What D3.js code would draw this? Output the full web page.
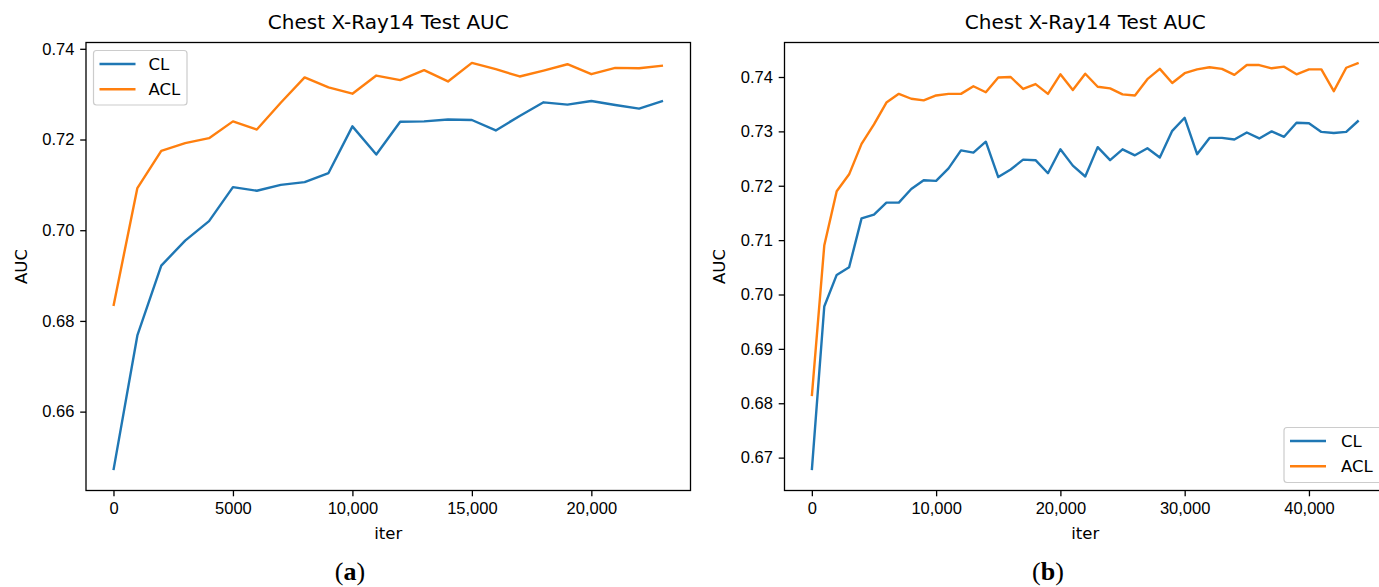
<!DOCTYPE html>
<html>
<head>
<meta charset="utf-8">
<script src="https://cdn.jsdelivr.net/npm/d3@7"></script>
<style>
    body { margin: 0; background: #fff; }
    svg { display: block; font-family: "DejaVu Sans", sans-serif; }
    .tick text { font-size: 16.5px; fill: #000; }
    .tick line, .domain { stroke: #000; stroke-width: 1.3; }
</style>
</head>
<body>
<svg id="chart" width="1379" height="587"></svg>
<script>
// panel (a): 24 evals
var itersA = [0, 1000, 2000, 3000, 4000, 5000, 6000, 7000, 8000, 9000, 10000, 11000,
    12000, 13000, 14000, 15000, 16000, 17000, 18000, 19000, 20000, 21000, 22000, 23000];
var clA = [0.6471, 0.6768, 0.6922, 0.6977, 0.7020, 0.7095, 0.7087, 0.7100, 0.7106, 0.7126, 0.7229, 0.7167,
    0.7239, 0.7240, 0.7244, 0.7243, 0.7220, 0.7252, 0.7282, 0.7277, 0.7285, 0.7276, 0.7268, 0.7285];
var aclA = [0.6833, 0.7093, 0.7175, 0.7192, 0.7203, 0.7240, 0.7222, 0.7281, 0.7337, 0.7315, 0.7301, 0.7341,
    0.7331, 0.7353, 0.7328, 0.7369, 0.7355, 0.7339, 0.7352, 0.7366, 0.7344, 0.7358, 0.7357, 0.7363];
var yTicksA = [0.66, 0.68, 0.70, 0.72, 0.74];
var xTicksA = [0, 5000, 10000, 15000, 20000];

// panel (b): 45 evals
var itersB = [0, 1000, 2000, 3000, 4000, 5000, 6000, 7000, 8000, 9000, 10000, 11000, 12000, 13000, 14000,
    15000, 16000, 17000, 18000, 19000, 20000, 21000, 22000, 23000, 24000, 25000, 26000, 27000, 28000, 29000,
    30000, 31000, 32000, 33000, 34000, 35000, 36000, 37000, 38000, 39000, 40000, 41000, 42000, 43000, 44000];
var clB = [0.6677, 0.6978, 0.7036, 0.7050, 0.7140, 0.7147, 0.7169, 0.7169, 0.7194, 0.7210, 0.7209, 0.7232, 0.7265, 0.7261, 0.7281,
    0.7216, 0.7230, 0.7248, 0.7247, 0.7223, 0.7267, 0.7237, 0.7217, 0.7271, 0.7247, 0.7267, 0.7256, 0.7269, 0.7252, 0.7301,
    0.7325, 0.7258, 0.7288, 0.7288, 0.7285, 0.7298, 0.7287, 0.7300, 0.7290, 0.7316, 0.7315, 0.7299, 0.7297, 0.7299, 0.7320];
var aclB = [0.6813, 0.7090, 0.7190, 0.7221, 0.7277, 0.7313, 0.7353, 0.7369, 0.7360, 0.7357, 0.7366, 0.7369, 0.7369, 0.7383, 0.7372,
    0.7399, 0.7400, 0.7378, 0.7387, 0.7369, 0.7405, 0.7376, 0.7406, 0.7382, 0.7379, 0.7368, 0.7366, 0.7396, 0.7415, 0.7389,
    0.7407, 0.7414, 0.7418, 0.7415, 0.7404, 0.7422, 0.7422, 0.7416, 0.7419, 0.7405, 0.7414, 0.7414, 0.7374, 0.7417, 0.7426];
var yTicksB = [0.67, 0.68, 0.69, 0.70, 0.71, 0.72, 0.73, 0.74];
var xTicksB = [0, 10000, 20000, 30000, 40000];

var seriesNames = ["CL", "ACL"];
var colors = ["#1f77b4", "#ff7f0e"];

var svg = d3.select("#chart");

// matplotlib style 5% margin around the data
function padded(values) {
    var ext = d3.extent(values);
    var m = (ext[1] - ext[0]) * 0.05;
    return [ext[0] - m, ext[1] + m];
}

function fmtX(d) {
    return d >= 10000 ? d3.format(",")(d) : String(d);
}

function draw_panel(opts) {
    var g = svg.append("g");
    var x = d3.scaleLinear().domain(padded(opts.iters)).range([opts.left, opts.right]);
    var y = d3.scaleLinear().domain(padded(opts.cl.concat(opts.acl))).range([opts.bottom, opts.top]);

    // frame
    g.append("rect")
        .attr("x", opts.left).attr("y", opts.top)
        .attr("width", opts.right - opts.left).attr("height", opts.bottom - opts.top)
        .attr("fill", "none").attr("stroke", "#000").attr("stroke-width", 1.3);

    g.append("g")
        .attr("transform", "translate(0," + opts.bottom + ")")
        .call(d3.axisBottom(x).tickValues(opts.xTicks).tickFormat(fmtX).tickSize(5.8).tickPadding(5.8))
        .call(function(a) { a.select(".domain").remove(); });

    g.append("g")
        .attr("transform", "translate(" + opts.left + ",0)")
        .call(d3.axisLeft(y).tickValues(opts.yTicks).tickFormat(d3.format(".2f")).tickSize(5.8).tickPadding(5.8))
        .call(function(a) { a.select(".domain").remove(); });

    var line = d3.line()
        .x(function(d) { return x(d[0]); })
        .y(function(d) { return y(d[1]); });

    [opts.cl, opts.acl].forEach(function(vals, i) {
        g.append("path")
            .datum(d3.zip(opts.iters, vals))
            .attr("d", line)
            .attr("fill", "none")
            .attr("stroke", colors[i])
            .attr("stroke-width", 2.4)
            .attr("stroke-linejoin", "round");
    });

    g.append("text")
        .attr("x", (opts.left + opts.right) / 2).attr("y", 29)
        .attr("text-anchor", "middle").attr("font-size", 20)
        .text("Chest X-Ray14 Test AUC");

    g.append("text")
        .attr("x", (opts.left + opts.right) / 2).attr("y", 539)
        .attr("text-anchor", "middle").attr("font-size", 16.5)
        .text("iter");

    g.append("text")
        .attr("transform", "translate(" + opts.yLabelX + "," + ((opts.top + opts.bottom) / 2) + ") rotate(-90)")
        .attr("text-anchor", "middle").attr("font-size", 16.5)
        .text("AUC");

    // legend
    var lg = opts.legend;
    g.append("rect")
        .attr("x", lg.x).attr("y", lg.y).attr("width", lg.w).attr("height", lg.h)
        .attr("rx", 3)
        .attr("fill", "#fff").attr("fill-opacity", 0.8)
        .attr("stroke", "#cccccc").attr("stroke-width", 1.2);
    seriesNames.forEach(function(name, i) {
        var ly = lg.y + 13.5 + i * 25.3;
        g.append("line")
            .attr("x1", lg.x + 6).attr("x2", lg.x + 42)
            .attr("y1", ly).attr("y2", ly)
            .attr("stroke", colors[i]).attr("stroke-width", 2.4);
        g.append("text")
            .attr("x", lg.x + lg.tx).attr("y", ly + 6)
            .attr("font-size", 16.5)
            .text(name);
    });

    // sub-figure caption
    var cap = svg.append("text")
        .attr("x", opts.capX).attr("y", 580)
        .attr("text-anchor", "middle")
        .attr("font-family", "'Liberation Serif', serif")
        .attr("font-size", 26);
    cap.append("tspan").text("(");
    cap.append("tspan").attr("font-weight", "bold").text(opts.cap);
    cap.append("tspan").text(")");
}

draw_panel({
    iters: itersA, cl: clA, acl: aclA, xTicks: xTicksA, yTicks: yTicksA,
    left: 86, right: 690.5, top: 42.5, bottom: 490.5, yLabelX: 27,
    legend: { x: 93.5, y: 50.5, w: 93.5, h: 54.5, tx: 55 },
    cap: "a", capX: 350
});

draw_panel({
    iters: itersB, cl: clB, acl: aclB, xTicks: xTicksB, yTicks: yTicksB,
    left: 784.5, right: 1386, top: 42.5, bottom: 490.5, yLabelX: 725,
    legend: { x: 1284, y: 427.5, w: 100, h: 55, tx: 57 },
    cap: "b", capX: 1048
});
</script>
</body>
</html>
